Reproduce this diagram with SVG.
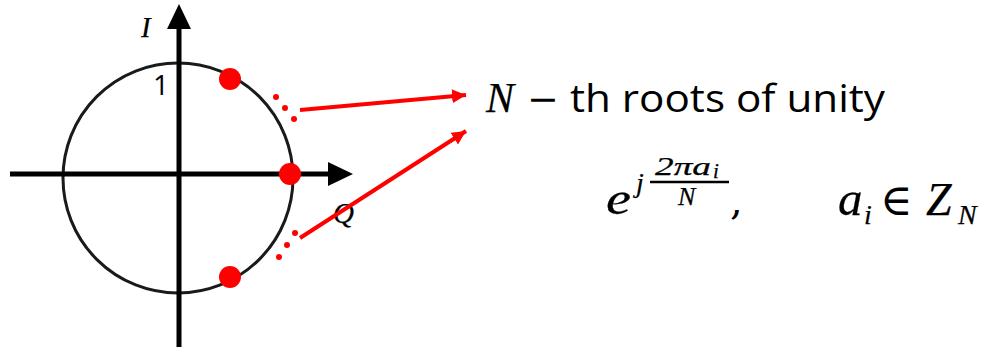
<svg xmlns="http://www.w3.org/2000/svg" width="993" height="349" viewBox="0 0 993 349">
<style>
.ax{stroke:#000;stroke-width:5;fill:none}
.ah{fill:#000}
.red{fill:#f00}
.rl{stroke:#f00;stroke-width:4;fill:none}
.m{font-family:"Liberation Serif","DejaVu Serif",serif;font-style:italic;fill:#000;stroke:#000;stroke-width:0.25}
.n{font-family:"DejaVu Serif","Liberation Serif",serif;fill:#000}
.s{font-family:"Open Sans","Liberation Sans",sans-serif;fill:#000}
</style>
<defs>
<marker id="rarrow" markerWidth="16" markerHeight="16" refX="14" refY="7" orient="auto" markerUnits="userSpaceOnUse">
<path d="M0,0 L14,7 L0,14 Z" fill="#f00"/>
</marker>
</defs>
<rect width="993" height="349" fill="#fff"/>
<g id="plane">
<circle cx="178" cy="178" r="115" fill="none" stroke="#1a1a1a" stroke-width="3"/>
<line class="ax" x1="179" y1="347" x2="179" y2="26"/>
<path class="ah" d="M179,4 L167,29 L191,29 Z"/>
<line class="ax" x1="10" y1="174" x2="330" y2="174"/>
<path class="ah" d="M353,174 L328,162 L328,186 Z"/>
<text class="m" x="141" y="37" font-size="29">I</text>
<text class="s" x="153" y="95" font-size="28">1</text>
<text class="m" x="333" y="223" font-size="29">Q</text>
</g>
<g id="roots">
<circle class="red" cx="230" cy="79" r="11"/>
<circle class="red" cx="290" cy="174" r="11"/>
<circle class="red" cx="230" cy="277" r="11"/>
<circle class="red" cx="276" cy="97" r="3"/>
<circle class="red" cx="285" cy="108" r="3"/>
<circle class="red" cx="294" cy="119" r="3"/>
<circle class="red" cx="295" cy="233" r="3"/>
<circle class="red" cx="287" cy="245" r="3"/>
<circle class="red" cx="279" cy="257" r="3"/>
</g>
<g id="connectors">
<line class="rl" x1="300" y1="110" x2="466" y2="95" marker-end="url(#rarrow)"/>
<line class="rl" x1="300" y1="238" x2="466" y2="131" marker-end="url(#rarrow)"/>
</g>
<g id="label">
<text class="m" x="486" y="112" font-size="42">N</text>
<text class="n" x="527" y="112" font-size="38">−</text>
<text class="s" x="570" y="112" font-size="38" textLength="315" lengthAdjust="spacingAndGlyphs">th roots of unity</text>
</g>
<g id="formula">
<text class="m" x="606" y="214" font-size="46" textLength="25" lengthAdjust="spacingAndGlyphs">e</text>
<text class="m" x="636" y="192" font-size="28">j</text>
<text class="m" x="655" y="175" font-size="26" textLength="56" lengthAdjust="spacingAndGlyphs">2πa</text>
<text class="m" x="713" y="178" font-size="21">i</text>
<line x1="650" y1="182" x2="729" y2="182" stroke="#000" stroke-width="2.5"/>
<text class="m" x="678" y="205" font-size="26">N</text>
<text class="n" x="730" y="214" font-size="40">,</text>
<text class="m" x="838" y="215" font-size="49">a</text>
<text class="m" x="864" y="224" font-size="28">i</text>
<text class="n" x="880" y="215" font-size="44">∈</text>
<text class="m" x="926" y="215" font-size="46">Z</text>
<text class="m" x="958" y="224" font-size="28">N</text>
</g>
</svg>
